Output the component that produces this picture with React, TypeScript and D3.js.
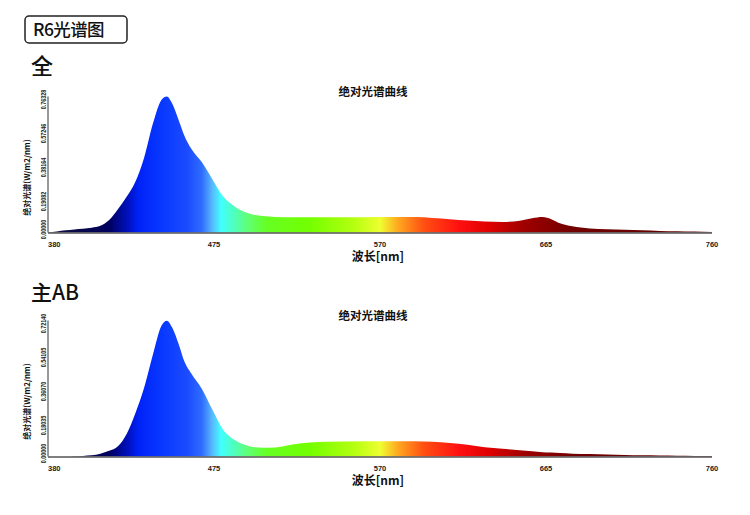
import React from "react";
import * as d3 from "d3";

const wavelengths = [380, 385, 390, 395, 400, 405, 410, 415, 420, 425, 430, 435, 440, 445, 448, 451, 455, 458, 462, 468, 474, 480, 487, 495, 503, 510, 520, 540, 560, 575, 590, 600, 610, 620, 630, 640, 650, 657, 663, 668, 673, 680, 690, 700, 710, 720, 730, 740, 750, 760];

const fullValues = [0.002, 0.006, 0.012, 0.017, 0.021, 0.027, 0.038, 0.07, 0.13, 0.2, 0.285, 0.42, 0.61, 0.745, 0.763, 0.725, 0.625, 0.545, 0.47, 0.395, 0.3, 0.205, 0.145, 0.107, 0.092, 0.087, 0.086, 0.086, 0.086, 0.087, 0.087, 0.082, 0.075, 0.068, 0.062, 0.059, 0.066, 0.08, 0.087, 0.075, 0.052, 0.035, 0.023, 0.018, 0.015, 0.012, 0.009, 0.007, 0.005, 0.003];

const mainValues = [0.0, 0.0, 0.0, 0.001, 0.003, 0.006, 0.015, 0.03, 0.055, 0.12, 0.23, 0.365, 0.54, 0.695, 0.72, 0.685, 0.59, 0.505, 0.44, 0.36, 0.25, 0.145, 0.087, 0.055, 0.047, 0.048, 0.064, 0.078, 0.081, 0.081, 0.081, 0.078, 0.072, 0.062, 0.049, 0.041, 0.033, 0.028, 0.023, 0.021, 0.018, 0.015, 0.013, 0.01, 0.008, 0.006, 0.005, 0.004, 0.003, 0.002];

const xTicks = [380, 475, 570, 665, 760];
const fullYTicks = ["0.00000", "0.19082", "0.38164", "0.57246", "0.76328"];
const mainYTicks = ["0.00000", "0.18035", "0.36070", "0.54105", "0.72140"];
const fullMax = 0.76328;
const mainMax = 0.7214;

const gradientStops: [number, string][] = [
  [380, "#14143e"], [400, "#06064c"], [415, "#00005e"], [425, "#0010b8"], [432, "#0022f8"],
  [445, "#0838ff"], [460, "#1c4cff"], [468, "#2e6cff"], [474, "#58b8ff"], [479, "#40ffff"],
  [487, "#50ffb8"], [495, "#60ff70"], [505, "#66ff24"], [530, "#74ff00"], [555, "#b4ff10"],
  [570, "#eeff30"], [580, "#ffaa20"], [595, "#ff5012"], [615, "#ff1010"], [632, "#e00000"],
  [652, "#a00000"], [680, "#720000"], [760, "#5e0000"],
];

const chartTitle = "绝对光谱曲线";
const xTitle = "波长[nm]";
const yTitle = "绝对光谱(W/m2/nm)";

const X0 = 48;
const X1 = 712;
const tickFont = "'Liberation Sans', Arial, sans-serif";
const cjkFont = "'Noto Sans CJK SC', 'Noto Sans', sans-serif";

function Panel({ top, values, max, yTicks, id }: { top: number; values: number[]; max: number; yTicks: string[]; id: string }) {
  const bottom = top + 136;
  const x = d3.scaleLinear().domain([380, 760]).range([X0, X1]);
  const y = d3.scaleLinear().domain([0, max]).range([bottom, top]);
  const area = d3
    .area<number>()
    .x((_, i) => x(wavelengths[i]))
    .y0(bottom)
    .y1((d) => y(d))
    .curve(d3.curveMonotoneX);
  const tickVals = yTicks.map((t) => parseFloat(t));
  return (
    <g>
      <defs>
        <linearGradient id={id} gradientUnits="userSpaceOnUse" x1={X0} x2={X1} y1={0} y2={0}>
          {gradientStops.map(([w, c], i) => (
            <stop key={i} offset={(w - 380) / 380} stopColor={c} />
          ))}
        </linearGradient>
      </defs>
      <text x={373} y={top - 1} textAnchor="middle" fontFamily={cjkFont} fontWeight={700} fontSize={11.5} fill="#111">
        {chartTitle}
      </text>
      <path d={area(values) || ""} fill={`url(#${id})`} />
      <line x1={X0} x2={X0} y1={top} y2={bottom} stroke="#333" strokeWidth={1} />
      <line x1={X0} x2={X1} y1={bottom + 0.5} y2={bottom + 0.5} stroke="#555" strokeWidth={1.3} />
      {tickVals.map((v, i) => (
        <text
          key={i}
          transform={`translate(45.5,${y(v) + (i === 0 ? -3 : 3)}) rotate(-90) scale(0.78,1)`}
          textAnchor="middle"
          fontFamily={tickFont}
          fontWeight={700}
          fontSize={7}
          fill="#222"
        >
          {yTicks[i]}
        </text>
      ))}
      <text
        transform={`translate(30,${(top + bottom) / 2 + 13}) rotate(-90)`}
        textAnchor="middle"
        fontFamily={cjkFont}
        fontWeight={700}
        fontSize={8}
        fill="#111"
      >
        {yTitle}
      </text>
      {xTicks.map((t, i) => (
        <text
          key={t}
          x={x(t)}
          y={bottom + 14}
          textAnchor={i === 0 ? "start" : "middle"}
          fontFamily={tickFont}
          fontWeight={700}
          fontSize={7.5}
          fill="#222"
        >
          {t}
        </text>
      ))}
      <text x={378} y={bottom + 28.5} textAnchor="middle" fontFamily={cjkFont} fontWeight={700} fontSize={12} fill="#111">
        {xTitle}
      </text>
    </g>
  );
}

export default function App() {
  return (
    <svg width={750} height={515} style={{ position: "absolute", left: 0, top: 0, background: "#fff" }}>
      <rect x={0} y={0} width={750} height={515} fill="#fff" />
      <rect x={25} y={16} width={102} height={27} rx={4} fill="#fff" stroke="#222" strokeWidth={1.5} />
      <text x={33} y={36} fontFamily={cjkFont} fontWeight={500} fontSize={17.5} letterSpacing={-0.6} fill="#111">
        R6光谱图
      </text>
      <text x={31} y={74} fontFamily={cjkFont} fontWeight={500} fontSize={22} fill="#111">
        全
      </text>
      <text x={31} y={299.5} fontFamily={cjkFont} fontWeight={500} fontSize={21} fill="#111">
        主AB
      </text>
      <Panel top={96.5} values={fullValues} max={fullMax} yTicks={fullYTicks} id="gradFull" />
      <Panel top={320.5} values={mainValues} max={mainMax} yTicks={mainYTicks} id="gradMain" />
    </svg>
  );
}
